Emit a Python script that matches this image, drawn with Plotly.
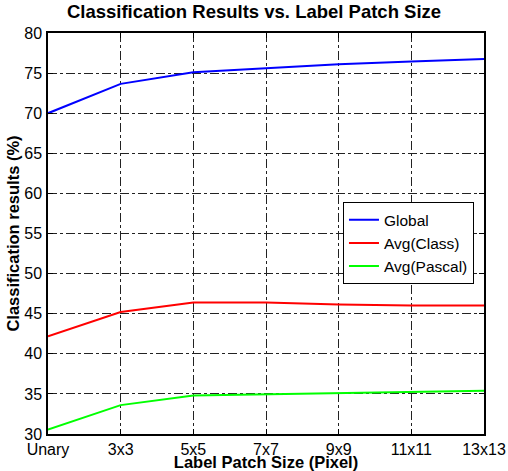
import plotly.graph_objects as go

categories = ["Unary", "3x3", "5x5", "7x7", "9x9", "11x11", "13x13"]
global_vals = [70.0, 73.66, 75.12, 75.6, 76.1, 76.46, 76.75]
avg_class = [42.19, 45.2, 46.4, 46.4, 46.16, 46.03, 46.03]
avg_pascal = [30.54, 33.6, 34.8, 34.96, 35.04, 35.2, 35.4]
y_ticks = [30, 35, 40, 45, 50, 55, 60, 65, 70, 75, 80]

xpos = list(range(len(categories)))
font = "Liberation Sans, Arial, Helvetica, sans-serif"

fig = go.Figure()
for name, vals, col in [("Global", global_vals, "#0000ff"),
                        ("Avg(Class)", avg_class, "#ff0000"),
                        ("Avg(Pascal)", avg_pascal, "#00ff00")]:
    fig.add_trace(go.Scatter(x=xpos, y=vals, mode="lines", name=name,
                             line=dict(color=col, width=2)))

axis_common = dict(showline=True, linecolor="black", linewidth=1.5, mirror="allticks",
                   ticks="inside", ticklen=5, tickcolor="black",
                   showgrid=True, gridcolor="#222222", griddash="dashdot", gridwidth=1,
                   zeroline=False, automargin=False,
                   tickfont=dict(family=font, size=16, color="black"))

fig.update_layout(
    width=508, height=471,
    margin=dict(l=48, r=24, t=33, b=37),
    paper_bgcolor="white", plot_bgcolor="white",
    title=dict(text="<b>Classification Results vs. Label Patch Size</b>",
               x=0.5, xanchor="center", y=0.975, yanchor="middle",
               font=dict(family=font, size=18.5, color="black")),
    xaxis=dict(range=[0, 6], tickvals=xpos, ticktext=categories,
               title=dict(text="<b>Label Patch Size (Pixel)</b>", standoff=1,
                          font=dict(family=font, size=16.5, color="black")),
               ticklabelstandoff=0, **axis_common),
    yaxis=dict(range=[30, 80], tickvals=y_ticks,
               title=dict(text="<b>Classification results (%)</b>", standoff=0,
                          font=dict(family=font, size=16.5, color="black")),
               ticklabelstandoff=1, **axis_common),
    legend=dict(x=0.977, y=0.578, xanchor="right", yanchor="top",
                bgcolor="white", bordercolor="black", borderwidth=1,
                font=dict(family=font, size=15.5, color="black"),
                tracegroupgap=0, itemwidth=30),
    showlegend=True,
)

fig.write_html("out.html", config={"displayModeBar": False},
               post_script="document.body.style.margin='0';")
